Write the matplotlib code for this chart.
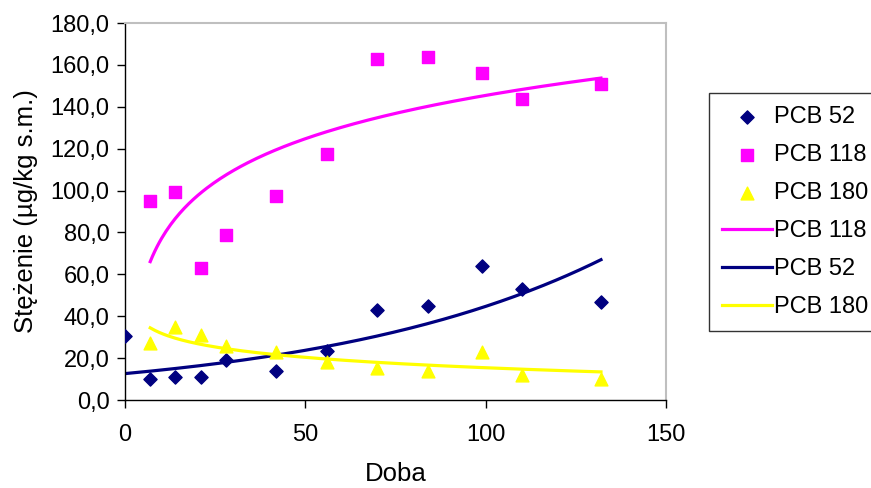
import numpy as np
import matplotlib
matplotlib.use("Agg")
import matplotlib.pyplot as plt

plt.rcParams['font.family'] = ['Liberation Sans', 'DejaVu Sans']

# dane pomiarowe
doba_52 = [0, 7, 14, 21, 28, 42, 56, 70, 84, 99, 110, 132]
pcb52 = [30.5, 10.0, 11.0, 11.0, 19.0, 14.0, 23.5, 43.0, 45.0, 64.0, 53.0, 47.0]
doba = [7, 14, 21, 28, 42, 56, 70, 84, 99, 110, 132]
pcb118 = [95.0, 99.5, 63.0, 79.0, 97.5, 117.5, 163.0, 164.0, 156.0, 143.5, 151.0]
pcb180 = [27.0, 35.0, 31.0, 26.0, 23.0, 18.0, 15.5, 14.0, 23.0, 12.0, 10.0]

y_ticks = [0, 20, 40, 60, 80, 100, 120, 140, 160, 180]
x_ticks = [0, 50, 100, 150]

fig = plt.figure(figsize=(8.71, 4.88), dpi=100)
ax = fig.add_axes([0.1435, 0.1803, 0.621, 0.7725])

ax.scatter(doba_52, pcb52, marker='D', s=45, color='#000080', label='PCB 52', zorder=3)
ax.scatter(doba, pcb118, marker='s', s=70, color='#FF00FF', label='PCB 118', zorder=3)
ax.scatter(doba, pcb180, marker='^', s=85, color='#FFFF00', label='PCB 180', zorder=3)

# linie trendu (jak w Excelu: log dla 118 i 180, wykladnicza dla 52)
xs = np.linspace(min(doba), max(doba), 200)
a, b = np.polyfit(np.log(doba), pcb118, 1)
ax.plot(xs, a * np.log(xs) + b, color='#FF00FF', lw=2.3, label='PCB 118', zorder=2)

xs52 = np.linspace(min(doba_52), max(doba_52), 200)
k, c = np.polyfit(doba_52, np.log(pcb52), 1)
ax.plot(xs52, np.exp(c) * np.exp(k * xs52), color='#000080', lw=2.3, label='PCB 52', zorder=2)

a, b = np.polyfit(np.log(doba), pcb180, 1)
ax.plot(xs, a * np.log(xs) + b, color='#FFFF00', lw=2.3, label='PCB 180', zorder=2)

ax.set_xlim(0, 150)
ax.set_ylim(0, 180)
ax.set_xticks(x_ticks)
ax.set_yticks(y_ticks)
ax.set_yticklabels([f"{v:.1f}".replace('.', ',') for v in y_ticks])
ax.tick_params(labelsize=17, length=6, width=1, colors='black', direction='out')
ax.tick_params(axis='x', pad=11)
ax.tick_params(axis='y', pad=5)

for s in ['top', 'right']:
    ax.spines[s].set_color('#BFBFBF')
    ax.spines[s].set_linewidth(1.5)
for s in ['left', 'bottom']:
    ax.spines[s].set_color('black')
    ax.spines[s].set_linewidth(1)

ax.set_xlabel('Doba', fontsize=18.5, labelpad=12)
ax.set_ylabel('Stężenie (µg/kg s.m.)', fontsize=18.5, labelpad=9)

leg = fig.legend(loc='upper left', bbox_to_anchor=(709 / 871, 1 - 93 / 488), fontsize=17,
                 frameon=True, fancybox=False, edgecolor='black', handlelength=2.1,
                 handletextpad=0.1, labelspacing=0.68, borderpad=0.55, borderaxespad=0)
leg.get_frame().set_linewidth(1)

fig.savefig('out.png', dpi=100)
